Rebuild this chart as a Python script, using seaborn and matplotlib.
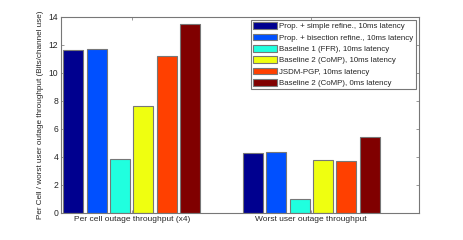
import matplotlib
matplotlib.use("Agg")
import matplotlib.pyplot as plt
import seaborn as sns
import pandas as pd

# values
groups = ["Per cell outage throughput (x4)", "Worst user outage throughput"]
schemes = [
    "Prop. + simple refine., 10ms latency",
    "Prop. + bisection refine., 10ms latency",
    "Baseline 1 (FFR), 10ms latency",
    "Baseline 2 (CoMP), 10ms latency",
    "JSDM-PGP, 10ms latency",
    "Baseline 2 (CoMP), 0ms latency",
]
per_cell = [11.64, 11.74, 3.83, 7.62, 11.19, 13.52]
worst_user = [4.26, 4.33, 0.98, 3.76, 3.69, 5.43]
colors = ["#00008F", "#0050FF", "#20FFDF", "#EFFF10", "#FF4000", "#800000"]

rows = []
for s, a, b in zip(schemes, per_cell, worst_user):
    rows.append({"group": groups[0], "scheme": s, "value": a})
    rows.append({"group": groups[1], "scheme": s, "value": b})
df = pd.DataFrame(rows)

sns.set_theme(style="ticks")
plt.rcParams["font.family"] = ["Liberation Sans", "DejaVu Sans"]

fig = plt.figure(figsize=(4.63, 2.4), dpi=100)
ax = fig.add_axes([61 / 463, 1 - 213 / 240, (419 - 61) / 463, (213 - 17) / 240])

sns.barplot(data=df, x="group", y="value", hue="scheme", hue_order=schemes,
            order=groups, palette=colors, width=0.78, gap=0.14,
            edgecolor="#777777", linewidth=0.8, saturation=1, ax=ax)

ax.set_xlim(-0.394, 1.60)
ax.set_ylim(0, 14)
ax.set_yticks(range(0, 15, 2))
ax.set_xlabel("")
ax.set_ylabel("Per Cell / worst user outage throughput (Bits/channel use)", fontsize=5.9, labelpad=3)
ax.tick_params(direction="in", length=2, width=0.6, labelsize=6.2, top=True, right=True,
               color="#888888", pad=2)
for lbl in ax.get_xticklabels():
    lbl.set_fontsize(6)
for sp in ax.spines.values():
    sp.set_visible(True)
    sp.set_color("#777777")
    sp.set_linewidth(0.8)

leg = ax.legend(loc="upper right", bbox_to_anchor=(416 / 463, 1 - 20 / 240),
                bbox_transform=fig.transFigure, borderaxespad=0, fontsize=5.7,
                frameon=True, fancybox=False, framealpha=1, edgecolor="#777777",
                handlelength=3.0, handleheight=0.9, handletextpad=0.3,
                labelspacing=0.42, borderpad=0.3)
leg.get_frame().set_linewidth(0.8)

fig.savefig("out.png", dpi=100)
